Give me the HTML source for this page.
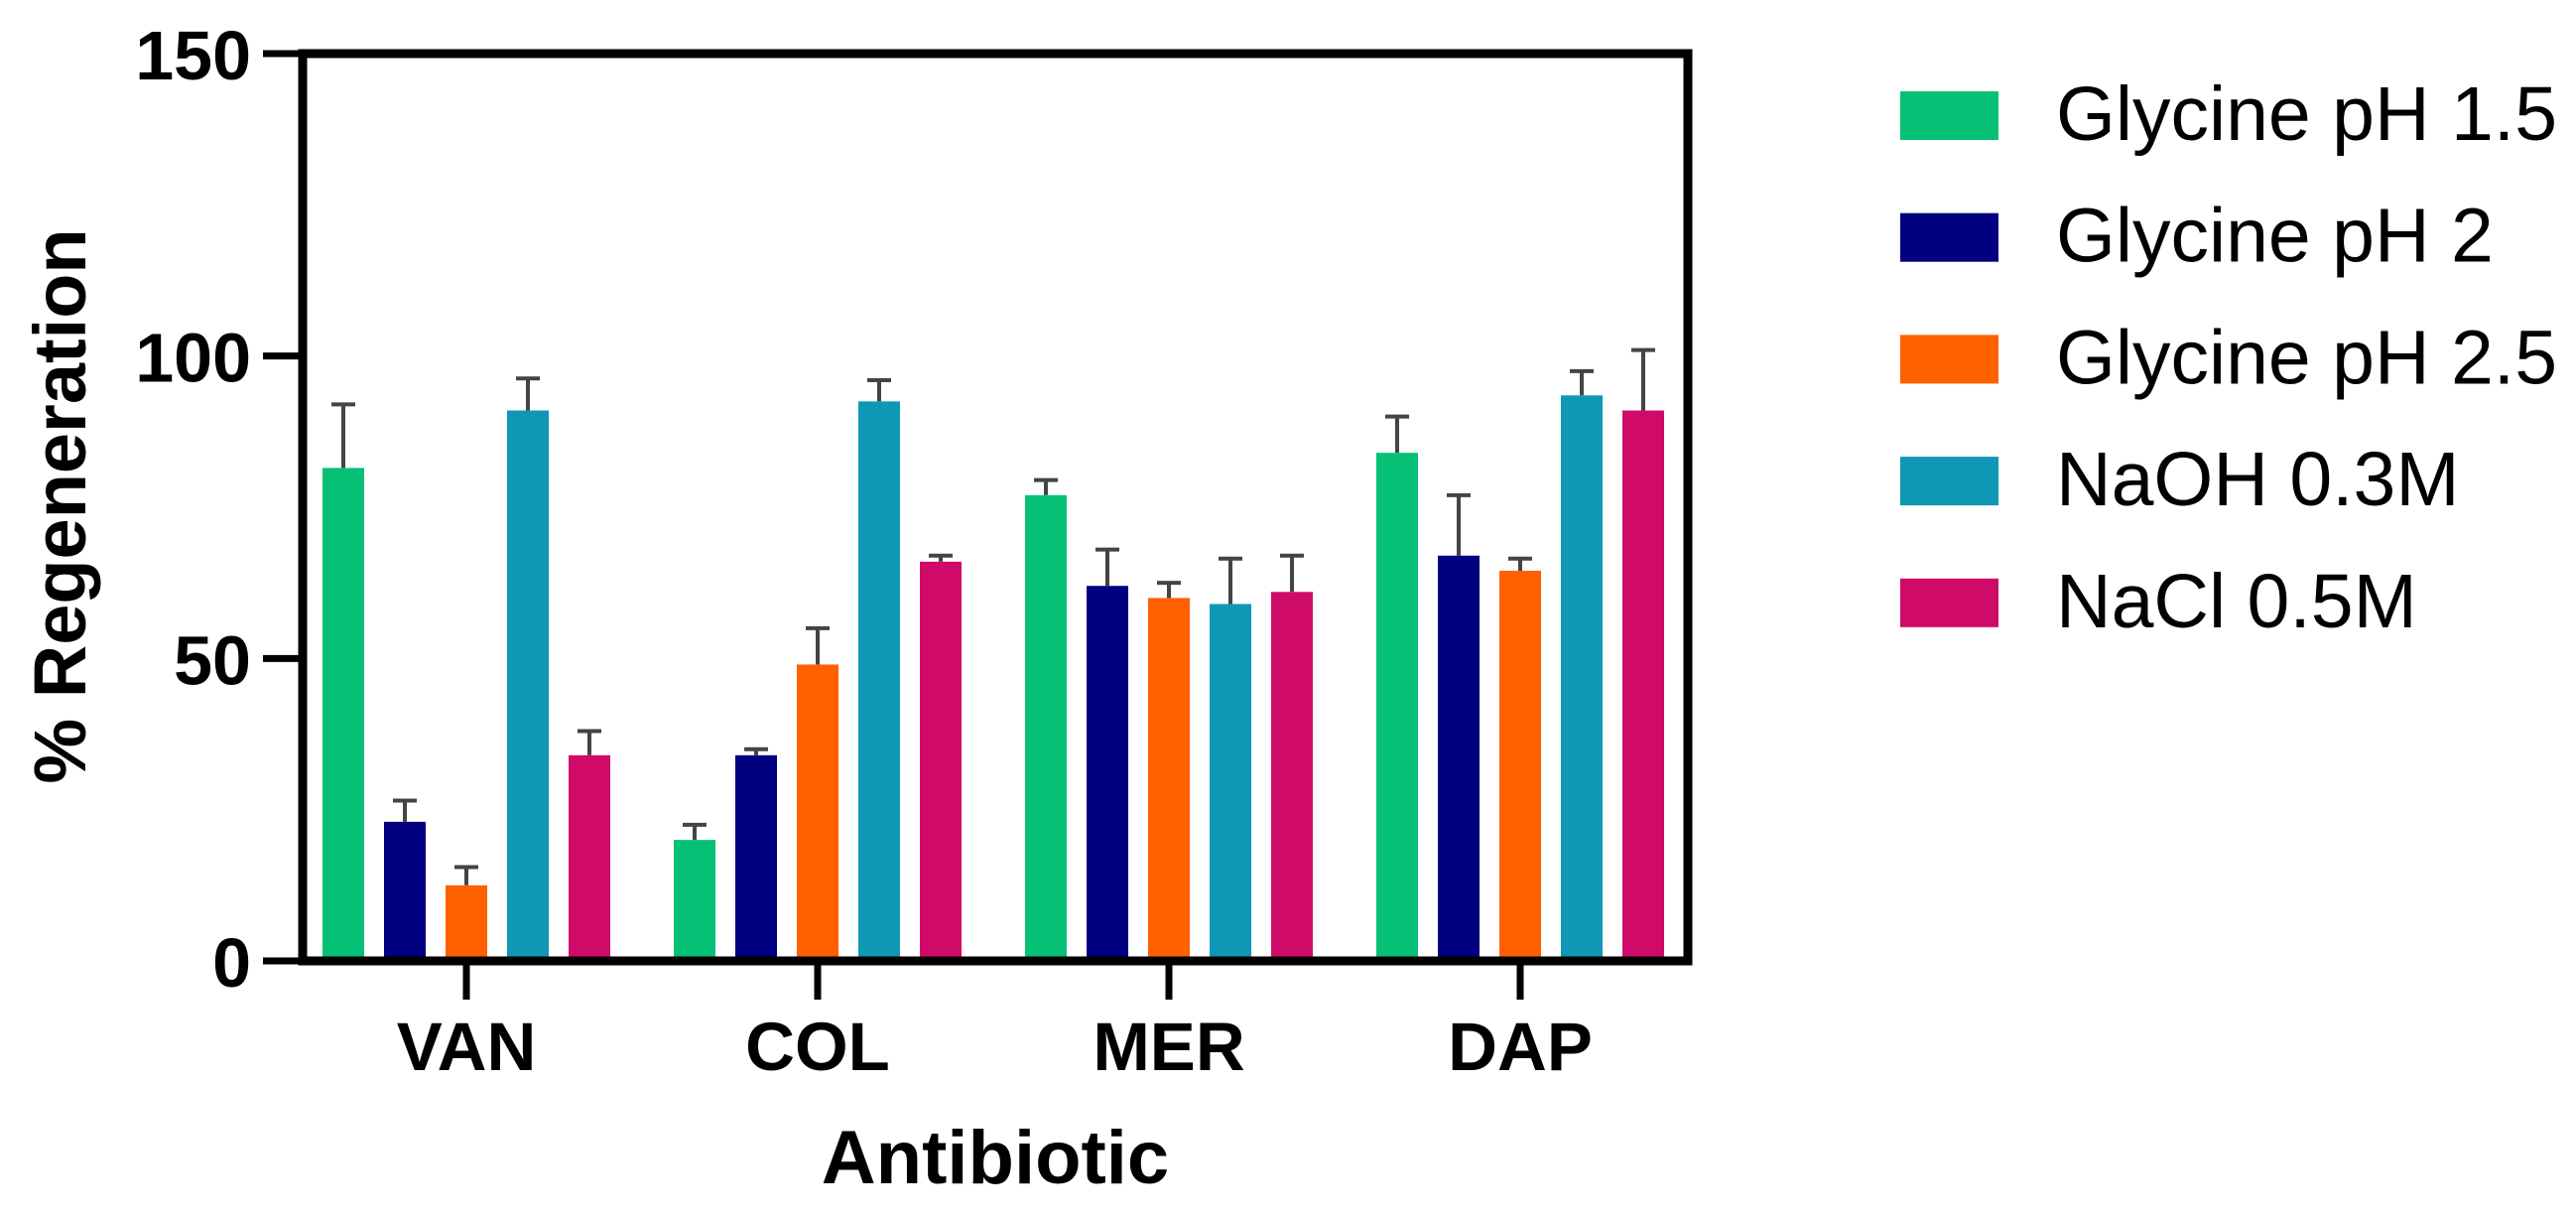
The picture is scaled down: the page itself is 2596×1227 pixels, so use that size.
<!DOCTYPE html>
<html><head><meta charset="utf-8"><style>
html,body{margin:0;padding:0;background:#fff;}
svg{display:block;}
text{font-family:"Liberation Sans",Arial,sans-serif;fill:#000;}
</style></head>
<body>
<svg id="chart" width="2596" height="1227" viewBox="0 0 2596 1227" xmlns="http://www.w3.org/2000/svg">
<g id="bars"></g>
<g id="axes"></g>
<g id="legend"></g>
<text x="0" y="0" transform="translate(86,510) rotate(-90)" text-anchor="middle" font-size="74" font-weight="bold">% Regeneration</text>
<text x="1003" y="1192" text-anchor="middle" font-size="76" font-weight="bold">Antibiotic</text>
</svg>
<script>
const categories = ["VAN", "COL", "MER", "DAP"];
const seriesNames = ["Glycine pH 1.5", "Glycine pH 2", "Glycine pH 2.5", "NaOH 0.3M", "NaCl 0.5M"];
const glycine15 = [81.5, 20, 77, 84];
const glycine15Err = [10.5, 2.5, 2.5, 6];
const glycine2 = [23, 34, 62, 67];
const glycine2Err = [3.5, 1, 6, 10];
const glycine25 = [12.5, 49, 60, 64.5];
const glycine25Err = [3, 6, 2.5, 2];
const naoh = [91, 92.5, 59, 93.5];
const naohErr = [5.3, 3.5, 7.5, 4];
const nacl = [34, 66, 61, 91];
const naclErr = [4, 1, 6, 10];
const yTicks = [0, 50, 100, 150];
const colors = ["#06C175", "#000080", "#FF6000", "#0E98B5", "#D00A68"];

const series = [glycine15, glycine2, glycine25, naoh, nacl];
const errs = [glycine15Err, glycine2Err, glycine25Err, naohErr, naclErr];
const NS = "http://www.w3.org/2000/svg";
const X0 = 305, X1 = 1701, Y0 = 968, Y1 = 54, YMAX = 150;
function y(v){ return Y0 - (Y0 - Y1) * v / YMAX; }
function groupX(i){ return 470 + i * 354; }
const barW = 42, barPitch = 62;
function barX(g, s){ return groupX(g) + (s - 2) * barPitch - barW / 2; }
function mk(tag, attrs, parent){ const e = document.createElementNS(NS, tag); for (const k in attrs) e.setAttribute(k, attrs[k]); parent.appendChild(e); return e; }

const barsG = document.getElementById('bars');
categories.forEach((c, g) => {
  series.forEach((arr, s) => {
    const v = arr[g], e = errs[s][g];
    const cx = barX(g, s) + barW / 2;
    const line = mk('line', {x1: cx, x2: cx, y1: y(v), y2: y(v + e), stroke: '#444', 'stroke-width': 4}, barsG);
    
    
    const cap = mk('line', {x1: cx - 12, x2: cx + 12, y1: y(v + e), y2: y(v + e), stroke: '#444', 'stroke-width': 4}, barsG);
    
    
    const r = mk('rect', {x: barX(g, s), y: y(v), width: barW, height: Y0 - y(v), fill: colors[s]}, barsG);
    
    
  });
});

const axesG = document.getElementById('axes');
const frame = mk('rect', {x: X0, y: Y1, width: X1 - X0, height: Y0 - Y1, fill: 'none', stroke: '#000', 'stroke-width': 9}, axesG);


yTicks.forEach(t => {
  const tk = mk('line', {x1: 265, x2: X0, y1: y(t), y2: y(t), stroke: '#000', 'stroke-width': 7}, axesG);
  
  
  const lb = mk('text', {x: 253, y: y(t) + 26, 'text-anchor': 'end', 'font-size': 70, 'font-weight': 'bold'}, axesG);
  lb.textContent = t;
  
  
});
categories.forEach((c, g) => {
  const tk = mk('line', {x1: groupX(g), x2: groupX(g), y1: Y0, y2: 1007, stroke: '#000', 'stroke-width': 7}, axesG);
  
  
  const lb = mk('text', {x: groupX(g), y: 1078, 'text-anchor': 'middle', 'font-size': 69, 'font-weight': 'bold'}, axesG);
  lb.textContent = c;
  
  
});

const legG = document.getElementById('legend');
seriesNames.forEach((n, i) => {
  const yy = 92 + i * 122.7;
  const sw = mk('rect', {x: 1915, y: yy, width: 99, height: 49, fill: colors[i]}, legG);
  
  
  const t = mk('text', {x: 2072, y: yy + 49, 'font-size': 77}, legG);
  t.textContent = n;
  
  
});
</script>
</body></html>
